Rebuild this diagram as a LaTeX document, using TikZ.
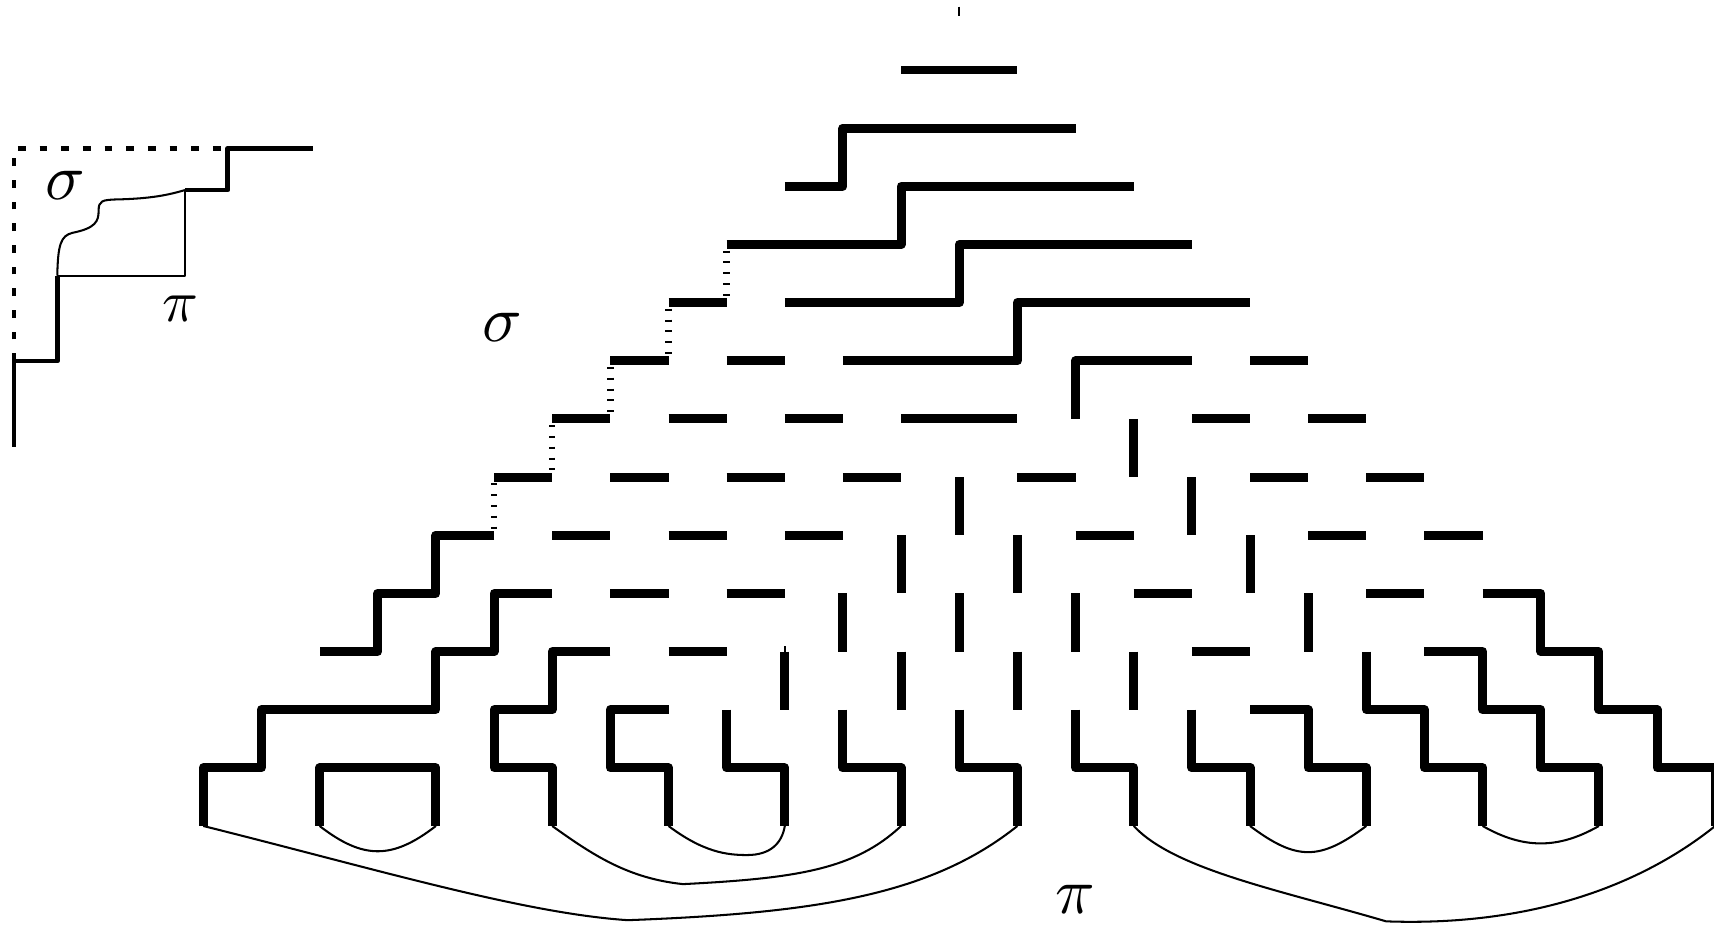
\documentclass[tikz,border=0pt]{standalone}
\usepackage{graphicx}
\begin{document}
\begin{tikzpicture}[x=1cm,y=1cm,
 thk/.style={line width=4.4pt, line join=round},
 dotv/.style={line width=3.2pt, dash pattern=on 1pt off 4.3pt, dash phase=-3pt},
 thn/.style={line width=1pt, line join=round},
 ithk/.style={line width=2.3pt, line join=round},
 idash/.style={line width=2.3pt, dash pattern=on 3.8pt off 6.8pt},
 lbl/.style={inner sep=0pt}]
\useasboundingbox (-3.496,-14.686) rectangle (25.979,1.204);

% ---------------- inset ----------------
\draw[idash] (-3.255,-5.004) -- (-3.255,-1.347) -- (0.420,-1.347);
\draw[ithk] (-3.255,-6.478) -- (-3.255,-5.004) -- (-2.511,-5.004) -- (-2.511,-3.537);
\draw[thn] (-2.511,-3.537) -- (-0.315,-3.537) -- (-0.315,-2.064);
\draw[ithk] (-0.315,-2.064) -- (0.420,-2.064) -- (0.420,-1.347) -- (1.892,-1.347);
\draw[thn] (-2.511,-3.537) .. controls (-2.50,-3.0) and (-2.45,-2.85) .. (-2.25,-2.80)
  .. controls (-1.85,-2.72) and (-1.80,-2.60) .. (-1.80,-2.42)
  .. controls (-1.80,-2.25) and (-1.75,-2.23) .. (-1.45,-2.225)
  .. controls (-0.90,-2.21) and (-0.60,-2.15) .. (-0.315,-2.064);
\node[lbl] (isig) at (-2.378,-1.991) {\scalebox{3.2}{$\sigma$}};
\node[lbl] (ipi) at (-0.401,-4.105) {\scalebox{2.9}{$\pi$}};

% ---------------- main triangle ----------------
\draw[thn] (13,1.089) -- (13,0.929);
\draw[thn] (10,-9.91) -- (10,-10);

% connected paths
\draw[thk] (12,0) -- (14,0);
\draw[thk] (10,-2) -- (11,-2) -- (11,-1) -- (15,-1);
\draw[thk] (9,-3) -- (12,-3) -- (12,-2) -- (16,-2);
\draw[thk] (10,-4) -- (13,-4) -- (13,-3) -- (17,-3);
\draw[thk] (11,-5) -- (14,-5) -- (14,-4) -- (18,-4);
\draw[thk] (15,-6) -- (15,-5) -- (17,-5);
\draw[thk] (5,-8) -- (4,-8) -- (4,-9) -- (3,-9) -- (3,-10) -- (2,-10);
\draw[thk] (6,-9) -- (5,-9) -- (5,-10) -- (4,-10) -- (4,-11) -- (1,-11) -- (1,-12) -- (0,-12) -- (0,-13);
\draw[thk] (7,-10) -- (6,-10) -- (6,-11) -- (5,-11) -- (5,-12) -- (6,-12) -- (6,-13);
\draw[thk] (8,-11) -- (7,-11) -- (7,-12) -- (8,-12) -- (8,-13);
\draw[thk] (2,-13) -- (2,-12) -- (4,-12) -- (4,-13);
\foreach \c in {9,11,13,15,17}
  \draw[thk] (\c,-11) -- (\c,-12) -- (\c+1,-12) -- (\c+1,-13);
\draw[thk] (18,-11) -- (19,-11) -- (19,-12) -- (20,-12) -- (20,-13);
\draw[thk] (20,-10) -- (20,-11) -- (21,-11) -- (21,-12) -- (22,-12) -- (22,-13);
\draw[thk] (21,-10) -- (22,-10) -- (22,-11) -- (23,-11) -- (23,-12) -- (24,-12) -- (24,-13);
\draw[thk] (22,-9) -- (23,-9) -- (23,-10) -- (24,-10) -- (24,-11) -- (25,-11) -- (25,-12) -- (26,-12) -- (26,-13);
\draw[thk] (12,-6) -- (14,-6);

% isolated horizontal unit segments: cell/row
\foreach \c/\r in {8/4, 7/5, 9/5, 18/5,
  6/6, 8/6, 10/6, 17/6, 19/6,
  5/7, 7/7, 9/7, 11/7, 14/7, 18/7, 20/7,
  6/8, 8/8, 10/8, 15/8, 19/8, 21/8,
  7/9, 9/9, 16/9, 20/9,
  8/10, 17/10}
  \draw[thk] (\c,-\r) -- (\c+1,-\r);

% isolated vertical unit segments: column/top row
\foreach \c/\r in {16/6, 13/7, 17/7, 12/8, 14/8, 18/8,
  11/9, 13/9, 15/9, 19/9, 10/10, 12/10, 14/10, 16/10}
  \draw[thk] (\c,-\r) -- (\c,-\r-1);

% dotted staircase
\foreach \c/\r in {9/3, 8/4, 7/5, 6/6, 5/7}
  \draw[dotv] (\c,-\r) -- (\c,-\r-1);

% bottom pairing curves
\draw[thn] (2,-13) .. controls (2.75,-13.58) and (3.25,-13.58) .. (4,-13);
\draw[thn] (8,-13) .. controls (8.6,-13.45) and (9.0,-13.5) .. (9.35,-13.5)
  .. controls (9.75,-13.5) and (9.95,-13.3) .. (10,-13);
\draw[thn] (6,-13) .. controls (6.7,-13.5) and (7.3,-13.9) .. (8.25,-14.0)
  .. controls (10.2,-13.9) and (11.2,-13.75) .. (12,-13);
\draw[thn] (0,-13) .. controls (3,-13.75) and (5.5,-14.5) .. (7.3,-14.62)
  .. controls (10.5,-14.5) and (12.5,-14.2) .. (14,-13);
\draw[thn] (16,-13) .. controls (16.7,-13.75) and (18.5,-14.1) .. (20.34,-14.64)
  .. controls (22.5,-14.72) and (24.5,-14.2) .. (26,-13);
\draw[thn] (18,-13) .. controls (18.8,-13.6) and (19.2,-13.6) .. (20,-13);
\draw[thn] (22,-13) .. controls (22.7,-13.4) and (23.3,-13.4) .. (24,-13);

\node[lbl] (sig) at (5.145,-4.428) {\scalebox{3.2}{$\sigma$}};
\node[lbl] (pi) at (14.99,-14.27) {\scalebox{3.2}{$\pi$}};
\end{tikzpicture}
\end{document}
